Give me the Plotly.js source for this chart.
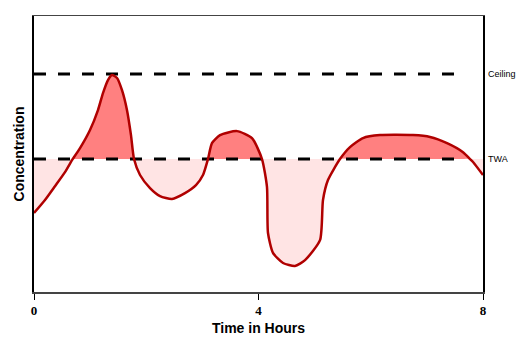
<!DOCTYPE html>
<html>
<head>
<meta charset="utf-8">
<script src="https://cdn.plot.ly/plotly-3.0.1.min.js"></script>
<style>html,body{margin:0;padding:0;background:#fff;}#chart{width:524px;height:343px;}</style>
</head>
<body>
<div id="chart"></div>
<script>
const hours = [0,0.196,0.374,0.552,0.677,0.82,0.998,1.14,1.229,1.318,1.39,1.479,1.568,1.657,1.728,1.782,1.889,2.067,2.245,2.459,2.69,2.886,3.011,3.1,3.171,3.314,3.617,3.884,4.062,4.151,4.169,4.258,4.437,4.65,4.829,5.096,5.149,5.238,5.452,5.63,5.862,6.165,6.753,7.056,7.359,7.644,7.822,8.0];
const concentration = [29.7,34.6,39.8,45.1,49.6,54.1,60.9,68.4,74.8,79.7,81.6,80.5,75.9,68.4,59.0,50.0,44.0,39.1,36.1,35.0,37.2,40.2,44.0,50.0,56.0,59.0,60.5,57.9,50.0,39.5,22.2,14.7,10.9,9.8,12.0,19.5,34.6,42.1,50.0,54.5,57.9,59.0,59.0,58.3,56.0,52.6,48.9,44.0];
const twa = 50;
const ceiling = 82;
const limitLabels = ["Ceiling", "TWA"];

// insert crossing points with TWA so fills split cleanly
const xs = [], ys = [];
for (let i = 0; i < hours.length; i++) {
  if (i > 0) {
    const a = concentration[i-1] - twa, b = concentration[i] - twa;
    if (a * b < 0) {
      const t = a / (a - b);
      xs.push(hours[i-1] + t * (hours[i] - hours[i-1]));
      ys.push(twa);
    }
  }
  xs.push(hours[i]); ys.push(concentration[i]);
}
const base = xs.map(() => twa);
const above = ys.map(v => Math.max(v, twa));
const below = ys.map(v => Math.min(v, twa));
const sm = {shape: 'spline', smoothing: 0.6};

const traces = [
  {x: xs, y: base, mode: 'lines', line: {width: 0}, hoverinfo: 'skip', showlegend: false},
  {x: xs, y: above, mode: 'lines', line: Object.assign({width: 0}, sm), fill: 'tonexty', fillcolor: '#FF8080', hoverinfo: 'skip', showlegend: false},
  {x: xs, y: base, mode: 'lines', line: {width: 0}, hoverinfo: 'skip', showlegend: false},
  {x: xs, y: below, mode: 'lines', line: Object.assign({width: 0}, sm), fill: 'tonexty', fillcolor: '#FFE4E4', hoverinfo: 'skip', showlegend: false},
  {x: [0, 7.68], y: [ceiling, ceiling], mode: 'lines', line: {color: '#000', width: 3, dash: '12px,12px'}, showlegend: false},
  {x: [0, 7.68], y: [twa, twa], mode: 'lines', line: {color: '#000', width: 3, dash: '12px,12px'}, showlegend: false},
  {x: xs, y: ys, mode: 'lines', line: Object.assign({color: '#B00000', width: 2.5}, sm), showlegend: false}
];

const layout = {
  width: 524, height: 343,
  margin: {l: 34, r: 41, t: 16, b: 51, pad: 0},
  paper_bgcolor: '#fff', plot_bgcolor: '#fff',
  font: {family: 'Arial, Liberation Sans, sans-serif', color: '#000'},
  xaxis: {
    range: [0, 8], tickvals: [0, 4, 8], ticktext: ['0', '4', '8'],
    ticks: 'outside', ticklen: 6, tickwidth: 1, tickcolor: '#000',
    tickfont: {family: 'Liberation Serif, serif', size: 13, weight: 'bold', color: '#000'},
    showgrid: false, zeroline: false,
    showline: true, linecolor: '#444', linewidth: 1.5, mirror: true,
    title: {text: 'Time in Hours', font: {size: 14, weight: 'bold', color: '#000'}, standoff: 6}
  },
  yaxis: {
    range: [0, 103.8], showticklabels: false, ticks: '',
    showgrid: false, zeroline: false,
    showline: true, linecolor: '#000', linewidth: 2, mirror: true,
    title: {text: 'Concentration', font: {size: 14, weight: 'bold', color: '#000'}, standoff: 4}
  },
  annotations: [
    {xref: 'paper', yref: 'y', x: 1, y: ceiling, xshift: 3, text: limitLabels[0], showarrow: false, xanchor: 'left', font: {size: 9, color: '#000'}},
    {xref: 'paper', yref: 'y', x: 1, y: twa, xshift: 3, text: limitLabels[1], showarrow: false, xanchor: 'left', font: {size: 9, color: '#000'}}
  ]
};

Plotly.newPlot('chart', traces, layout, {displayModeBar: false, staticPlot: true});
</script>
</body>
</html>
